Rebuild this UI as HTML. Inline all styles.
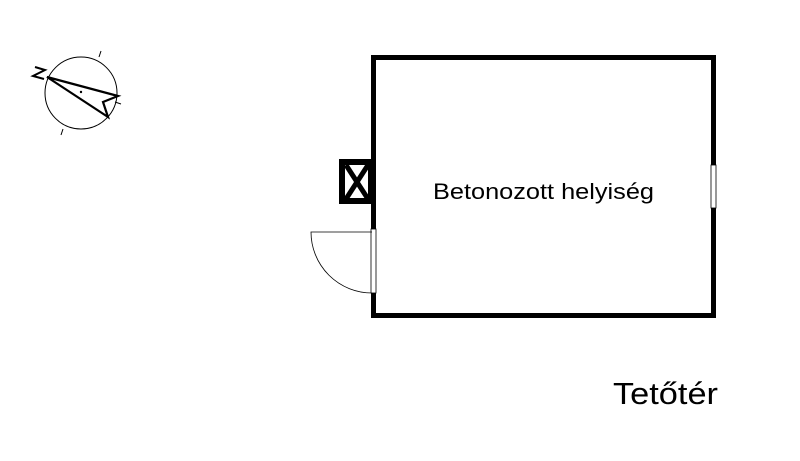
<!DOCTYPE html>
<html><head><style>
html,body{margin:0;padding:0;background:#fff;}
svg{display:block;}
text{font-family:"Liberation Sans","DejaVu Sans",sans-serif;}
</style></head><body>
<svg width="800" height="461" viewBox="0 0 800 461" xmlns="http://www.w3.org/2000/svg">
<rect width="800" height="461" fill="#fff"/>
<rect x="373.5" y="57.5" width="340" height="258" fill="none" stroke="#000" stroke-width="5"/>
<rect x="711" y="165" width="5" height="43" fill="#fff" stroke="#000" stroke-width="0.8"/>
<rect x="371" y="229" width="5" height="64" fill="#fff" stroke="#000" stroke-width="0.8"/>
<path d="M372 232 H311 A61 61 0 0 0 372 293" fill="none" stroke="#000" stroke-width="0.8"/>
<rect x="342" y="162" width="29" height="39" fill="#fff" stroke="#000" stroke-width="6"/>
<path d="M346 165 L368 199 M368 165 L346 199" stroke="#000" stroke-width="5"/>
<text x="433" y="199" font-size="22" textLength="221" lengthAdjust="spacingAndGlyphs">Betonozott helyiség</text>
<text x="613" y="404" font-size="31" textLength="105" lengthAdjust="spacingAndGlyphs">Tetőtér</text>
<circle cx="81" cy="93" r="36" fill="none" stroke="#000" stroke-width="1"/>
<path d="M99 57 L101 51 M63 129 L61 135 M115 102 L121 104" stroke="#000" stroke-width="1"/>
<circle cx="81" cy="92" r="1.2" fill="#000"/>
<path d="M47 77 L118 96 L103 102 L108 117 Z" fill="none" stroke="#000" stroke-width="2.2" stroke-linejoin="miter"/>
<path d="M35 67 L45 70 L33 76 L44 79" fill="none" stroke="#000" stroke-width="2"/>
</svg>
</body></html>
